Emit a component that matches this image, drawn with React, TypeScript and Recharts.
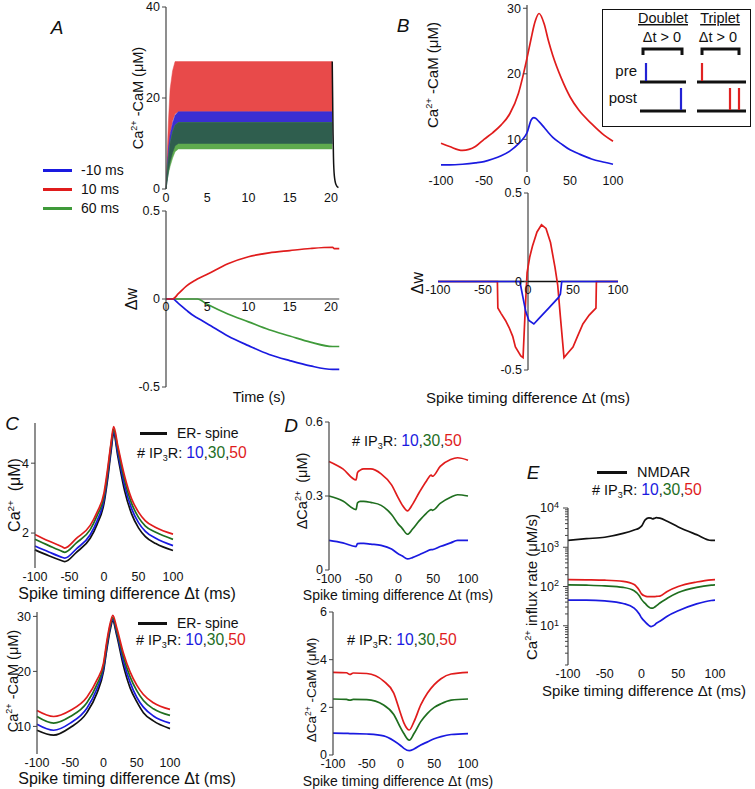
import React from "react";
import { ComposedChart, LineChart, Line, Area, XAxis, YAxis, ReferenceLine } from "recharts";

const FONT = "'Liberation Sans', Arial, Helvetica, sans-serif";
const AX = "#444";
const RED = "#e01c1c";
const BLUE = "#1a1ae0";
const GREEN = "#1f6e1f";
const AGREEN = "#3f9a3a";

// ---- panel A: Ca2+-CaM bands over time (min / max of the oscillation)
const tA = [0, 0.15, 0.3, 0.5, 0.8, 1.1, 1.5, 10, 20.15, 20.2, 20.25, 20.3, 20.4, 20.6, 20.9];
const aRedLo = [0, 3, 7, 12, 15, 16.5, 17, 17, 17, null, null, null, null, null, null];
const aRedHi = [0, 8, 15, 22, 26, 28, 28, 28, 28, null, null, null, null, null, null];
const aBlueLo = [0, 2, 4, 6, 8, 9.5, 10, 10, 10, null, null, null, null, null, null];
const aBlueHi = [0, 5, 9, 12, 14.5, 16.2, 17, 17, 17, null, null, null, null, null, null];
const aGreenLo = [0, 2, 3.5, 5, 6.8, 8.2, 8.8, 8.8, 8.8, null, null, null, null, null, null];
const aGreenHi = [0, 4, 7, 10, 12.5, 14, 14.6, 14.6, 14.6, null, null, null, null, null, null];
const aDecay = [null, null, null, null, null, null, null, null, 28, 20, 12, 7, 3, 1, 0.3];

// ---- panel A: weight change over time
const tW = [0, 0.8, 1.5, 2.5, 3.5, 3.8, 5, 7.5, 10, 12.5, 15, 17.5, 20.2, 20.4, 21];
const wRed = [0, 0, 0.03, 0.075, 0.105, 0.113, 0.14, 0.2, 0.24, 0.262, 0.275, 0.287, 0.294, 0.286, 0.286];
const wBlue = [0, 0, -0.025, -0.065, -0.1, -0.108, -0.14, -0.21, -0.265, -0.315, -0.35, -0.38, -0.4, -0.4, -0.4];
const wGreen = [0, 0, 0, 0, 0, 0, -0.03, -0.085, -0.13, -0.175, -0.21, -0.245, -0.27, -0.27, -0.27];

// ---- panel B: Ca2+-CaM vs spike timing
const dtB = [-100, -90, -75, -60, -50, -40, -30, -20, -10, -5, 0, 5, 8, 10, 14, 20, 25, 30, 40, 50, 60, 75, 90, 100];
const bCamRed = [9.4, 8.9, 8.3, 8.9, 10.0, 11.0, 12.2, 13.9, 17.0, 19.5, 22.4, 25.5, 27.3, 28.2, 29.2, 27.6, 25.0, 22.8, 19.3, 16.5, 14.5, 12.4, 10.6, 9.7];
const bCamBlue = [6.1, 6.1, 6.2, 6.4, 6.6, 7.0, 7.5, 8.2, 9.3, 10.0, 11.0, 13.0, 13.3, 13.2, 12.7, 11.8, 11.0, 10.3, 9.3, 8.4, 7.8, 7.0, 6.5, 6.2];

// ---- panel B: weight change vs spike timing
const dtWRed = [-100, -34, -33.5, -30, -25, -21, -17, -14, -8, -5.5, -3, -1, 2, 5, 10, 15, 20, 25, 30, 33, 36, 40, 45, 50, 55, 61, 68, 75.5, 76, 100];
const bwRed = [0, 0, -0.15, -0.18, -0.22, -0.26, -0.31, -0.37, -0.42, -0.43, -0.15, 0.05, 0.14, 0.2, 0.28, 0.32, 0.3, 0.22, 0.08, -0.02, -0.2, -0.43, -0.4, -0.37, -0.31, -0.24, -0.19, -0.15, 0, 0];
const dtWBlue = [-100, -9, -6, -2.5, 1, 6.5, 12, 23, 34, 36, 37.5, 100];
const bwBlue = [0, 0, -0.08, -0.17, -0.22, -0.24, -0.21, -0.15, -0.09, -0.07, 0, 0];

// ---- panel C: Ca2+ and Ca2+-CaM, ER- spine vs #IP3R
const dtC1 = [-100, -80, -60, -57, -40, -20, -10, 0, 5, 10, 14, 20, 30, 40, 50, 60, 75, 100];
const c1Black = [1.52, 1.35, 1.2, 1.18, 1.45, 1.85, 2.25, 2.85, 3.5, 4.3, 4.85, 4.2, 3.2, 2.55, 2.15, 1.9, 1.7, 1.5];
const c1Blue = [1.63, 1.46, 1.3, 1.28, 1.55, 1.95, 2.35, 2.95, 3.6, 4.4, 4.9, 4.3, 3.35, 2.7, 2.3, 2.05, 1.85, 1.64];
const c1Green = [1.82, 1.64, 1.47, 1.45, 1.72, 2.1, 2.5, 3.05, 3.7, 4.5, 4.97, 4.42, 3.5, 2.85, 2.45, 2.2, 2.02, 1.82];
const c1Red = [1.96, 1.77, 1.6, 1.57, 1.85, 2.22, 2.6, 3.15, 3.8, 4.55, 5.05, 4.5, 3.62, 2.98, 2.6, 2.35, 2.16, 1.97];

const dtC2 = [-100, -75, -50, -25, -10, 0, 5, 10, 14, 20, 30, 40, 50, 60, 75, 100];
const c2Black = [9.3, 8.4, 9.8, 12.5, 16, 20, 24, 27.5, 29.2, 26.5, 21, 17, 14.5, 12.5, 11, 9.6];
const c2Blue = [10.4, 9.3, 10.6, 13.3, 16.8, 20.5, 24.5, 28, 29.5, 27, 21.8, 18, 15.3, 13.5, 11.9, 10.6];
const c2Green = [11.8, 10.6, 11.8, 14.3, 17.6, 21, 25, 28.3, 29.8, 27.4, 22.6, 19, 16.5, 14.7, 13.2, 12];
const c2Red = [12.9, 11.8, 12.9, 15.3, 18.4, 21.5, 25.5, 28.7, 30.2, 27.9, 23.3, 19.9, 17.5, 15.8, 14.3, 13.1];

// ---- panel D: difference to ER- spine
const dtD1 = [-100, -80, -61, -59, -55, -50, -40, -25, -10, 0, 5, 13, 20, 30, 40, 47, 49, 60, 75, 85, 100];
const d1Red = [0.44, 0.41, 0.365, 0.395, 0.405, 0.41, 0.41, 0.39, 0.345, 0.29, 0.265, 0.24, 0.265, 0.315, 0.36, 0.385, 0.38, 0.42, 0.448, 0.455, 0.445];
const d1Green = [0.3, 0.28, 0.245, 0.272, 0.278, 0.278, 0.274, 0.262, 0.225, 0.185, 0.17, 0.145, 0.165, 0.2, 0.23, 0.245, 0.242, 0.27, 0.295, 0.305, 0.3];
const d1Blue = [0.12, 0.11, 0.095, 0.107, 0.108, 0.108, 0.105, 0.1, 0.085, 0.065, 0.058, 0.045, 0.05, 0.062, 0.075, 0.083, 0.083, 0.095, 0.11, 0.12, 0.12];

const dtD2 = [-100, -80, -75, -70, -50, -25, -10, 0, 5, 13, 20, 30, 40, 50, 60, 75, 100];
const d2Red = [3.47, 3.45, 3.38, 3.44, 3.42, 3.1, 2.6, 1.75, 1.35, 1.05, 1.4, 2.1, 2.6, 2.95, 3.2, 3.4, 3.47];
const d2Green = [2.35, 2.33, 2.3, 2.33, 2.32, 2.1, 1.7, 1.15, 0.9, 0.62, 0.9, 1.4, 1.75, 2.0, 2.15, 2.3, 2.35];
const d2Blue = [0.92, 0.91, 0.9, 0.9, 0.88, 0.8, 0.6, 0.4, 0.28, 0.18, 0.25, 0.42, 0.55, 0.68, 0.77, 0.86, 0.9];

// ---- panel E: influx rates (log)
const dtE = [-100, -75, -50, -25, -10, -3, 0, 5, 10, 13, 15, 18, 20, 25, 35, 50, 75, 95, 100];
const eBlack = [1500, 1650, 1800, 2250, 2750, 3100, 3450, 5000, 5600, 5500, 5300, 5500, 5700, 5500, 4600, 3300, 2100, 1500, 1500];
const eRed = [150, 148, 145, 135, 112, 80, 65, 57, 55, 55, 55, 55, 56, 57, 75, 100, 130, 148, 150];
const eGreen = [110, 108, 104, 95, 78, 58, 47, 37, 30, 28, 28, 30, 32, 38, 50, 70, 95, 108, 110];
const eBlue = [45, 45, 43, 37, 28, 20, 16, 12.5, 10.2, 9.5, 9.8, 10.5, 11.5, 13, 17.5, 24, 36, 44, 45];

const dtTicks = [-100, -50, 0, 50, 100];
const timeTicks = [0, 5, 10, 15, 20];
const eDecades = [10, 100, 1000, 10000];

type Box = { x0: number; x1: number; y0: number; y1: number };
const PL = 44, PR = 18, PT = 10, PB = 26;

function frame(b: Box) {
  return {
    style: { position: "absolute", left: b.x0 - PL, top: b.y0 - PT } as React.CSSProperties,
    width: b.x1 - b.x0 + PL + PR,
    height: b.y1 - b.y0 + PT + PB,
    margin: { top: PT, right: PR, bottom: 0, left: 0 },
  };
}

function rows(xs: number[], cols: Record<string, any[]>) {
  return xs.map((x, i) => {
    const r: any = { x };
    Object.keys(cols).forEach((k) => (r[k] = cols[k][i]));
    return r;
  });
}

function unionRows(parts: { key: string; xs: number[]; ys: number[] }[]) {
  const all = Array.from(new Set(parts.flatMap((p) => p.xs))).sort((a, b) => a - b);
  return all.map((x) => {
    const r: any = { x };
    parts.forEach((p) => {
      const i = p.xs.indexOf(x);
      r[p.key] = i >= 0 ? p.ys[i] : null;
    });
    return r;
  });
}

const tickFont = { fill: "#111", fontSize: 12.5, fontFamily: FONT };
const yAx = {
  width: PL,
  tickSize: 4,
  tickMargin: 2,
  axisLine: { stroke: AX, strokeWidth: 1.2 },
  tickLine: { stroke: AX },
  tick: tickFont,
  interval: 0 as const,
};
const xAx = {
  type: "number" as const,
  dataKey: "x",
  height: PB,
  tickSize: 0,
  tickMargin: 4,
  axisLine: false,
  tickLine: false,
  tick: tickFont,
  interval: 0 as const,
};

// tick label placed on a horizontal line inside the plot (axis crossing at zero)
const xTickAt = (yPos: number) => (p: any) => (
  <text x={p.x} y={yPos} dy="0.71em" textAnchor="middle" {...tickFont}>
    {p.payload.value}
  </text>
);
// y tick placed at a vertical line inside the plot
const yTickAt = (xPos: number) => (p: any) => (
  <g>
    <line x1={xPos - 4} x2={xPos} y1={p.y} y2={p.y} stroke={AX} />
    <text x={xPos - 6} y={p.y} dy="0.35em" textAnchor="end" {...tickFont}>
      {p.payload.value}
    </text>
  </g>
);

const sup: React.CSSProperties = { fontSize: "0.62em", verticalAlign: "0.6em", lineHeight: 0 };
const sub: React.CSSProperties = { fontSize: "0.62em", verticalAlign: "-0.3em", lineHeight: 0 };

function VLabel({ cx, cy, size = 14, children }: { cx: number; cy: number; size?: number; children: React.ReactNode }) {
  return (
    <div style={{ position: "absolute", left: cx, top: cy, transform: "translate(-50%,-50%) rotate(-90deg)", whiteSpace: "nowrap", fontSize: size, lineHeight: 1 }}>
      {children}
    </div>
  );
}
function HLabel({ cx, cy, size = 14, children, style }: { cx: number; cy: number; size?: number; children: React.ReactNode; style?: React.CSSProperties }) {
  return (
    <div style={{ position: "absolute", left: cx, top: cy, transform: "translate(-50%,-50%)", whiteSpace: "nowrap", fontSize: size, lineHeight: 1, ...style }}>
      {children}
    </div>
  );
}
function TLabel({ x, cy, size = 14, children, style }: { x: number; cy: number; size?: number; children: React.ReactNode; style?: React.CSSProperties }) {
  return (
    <div style={{ position: "absolute", left: x, top: cy, transform: "translateY(-50%)", whiteSpace: "nowrap", fontSize: size, lineHeight: 1, ...style }}>
      {children}
    </div>
  );
}
function Swatch({ x, y, w, color, thick = 3 }: { x: number; y: number; w: number; color: string; thick?: number }) {
  return <div style={{ position: "absolute", left: x, top: y - thick / 2, width: w, height: thick, background: color }} />;
}
const IP3R = ({ x, cy, size = 14.5 }: { x: number; cy: number; size?: number }) => (
  <TLabel x={x} cy={cy} size={size}>
    # IP<span style={sub}>3</span>R: <span style={{ color: BLUE, fontSize: "1.08em" }}>10</span>,<span style={{ color: GREEN, fontSize: "1.08em" }}>30</span>,<span style={{ color: RED, fontSize: "1.08em" }}>50</span>
  </TLabel>
);

const line = (key: string, color: string, type: any = "monotone") => (
  <Line key={key} dataKey={key} stroke={color} strokeWidth={1.7} dot={false} activeDot={false} type={type} connectNulls isAnimationActive={false} />
);

function PanelATop() {
  const b = { x0: 166, x1: 339.25, y0: 7, y1: 189 };
  const f = frame(b);
  const data = tA.map((t, i) => ({
    x: t,
    red: aRedHi[i] == null ? null : [aRedLo[i], aRedHi[i]],
    blue: aBlueHi[i] == null ? null : [aBlueLo[i], aBlueHi[i]],
    green: aGreenHi[i] == null ? null : [aGreenLo[i], aGreenHi[i]],
    overlap:
      aGreenHi[i] == null
        ? null
        : [Math.max(aBlueLo[i] as number, aGreenLo[i] as number), Math.min(aBlueHi[i] as number, aGreenHi[i] as number)],
    decay: aDecay[i],
  }));
  return (
    <div style={f.style}>
      <ComposedChart width={f.width} height={f.height} margin={f.margin} data={data}>
        <XAxis {...xAx} domain={[0, 21]} ticks={timeTicks} />
        <YAxis {...yAx} domain={[0, 40]} ticks={[0, 20, 40]} />
        <Area dataKey="red" type="linear" fill="#e84a4a" fillOpacity={1} stroke="#e84a4a" strokeWidth={0.5} isAnimationActive={false} dot={false} activeDot={false} />
        <Area dataKey="blue" type="linear" fill="#3a2fd2" fillOpacity={1} stroke="#3a2fd2" strokeWidth={0.5} isAnimationActive={false} dot={false} activeDot={false} />
        <Area dataKey="green" type="linear" fill="#5fab4e" fillOpacity={1} stroke="#5fab4e" strokeWidth={0.5} isAnimationActive={false} dot={false} activeDot={false} />
        <Area dataKey="overlap" type="linear" fill="#2f5e4e" fillOpacity={1} stroke="#2f5e4e" strokeWidth={0.5} isAnimationActive={false} dot={false} activeDot={false} />
        <Line dataKey="decay" stroke="#111" strokeWidth={1.5} dot={false} activeDot={false} type="monotone" isAnimationActive={false} />
      </ComposedChart>
    </div>
  );
}

function PanelABottom() {
  const b = { x0: 166, x1: 339.25, y0: 211, y1: 387 };
  const f = frame(b);
  const data = rows(tW, { red: wRed, blue: wBlue, green: wGreen });
  const zeroY = PT + (b.y1 - b.y0) / 2;
  return (
    <div style={f.style}>
      <LineChart width={f.width} height={f.height} margin={f.margin} data={data}>
        <XAxis {...xAx} domain={[0, 21]} ticks={timeTicks} tick={xTickAt(zeroY + 3)} />
        <YAxis {...yAx} domain={[-0.5, 0.5]} ticks={[-0.5, 0, 0.5]} />
        <ReferenceLine y={0} stroke={AX} strokeWidth={1.2} />
        {line("green", AGREEN)}
        {line("blue", BLUE)}
        {line("red", RED)}
      </LineChart>
    </div>
  );
}

function PanelBTop() {
  const b = { x0: 441, x1: 613, y0: 4.7, y1: 171.8 };
  const f = frame(b);
  const data = rows(dtB, { red: bCamRed, blue: bCamBlue });
  const zeroX = PL + (b.x1 - b.x0) / 2;
  return (
    <div style={f.style}>
      <LineChart width={f.width} height={f.height} margin={f.margin} data={data}>
        <XAxis {...xAx} domain={[-100, 100]} ticks={dtTicks} />
        <YAxis {...yAx} domain={[5, 30.5]} ticks={[10, 20, 30]} axisLine={false} tickLine={false} tick={yTickAt(zeroX)} />
        <ReferenceLine x={0} stroke={AX} strokeWidth={1.2} />
        {line("red", RED)}
        {line("blue", BLUE)}
      </LineChart>
    </div>
  );
}

function PanelBBottom() {
  const b = { x0: 438, x1: 618, y0: 193, y1: 370 };
  const f = frame(b);
  const data = unionRows([
    { key: "red", xs: dtWRed, ys: bwRed },
    { key: "blue", xs: dtWBlue, ys: bwBlue },
  ]);
  const zeroX = PL + (b.x1 - b.x0) / 2;
  const zeroY = PT + (b.y1 - b.y0) / 2;
  return (
    <div style={f.style}>
      <LineChart width={f.width} height={f.height} margin={f.margin} data={data}>
        <XAxis {...xAx} domain={[-100, 100]} ticks={dtTicks} tick={xTickAt(zeroY + 4)} />
        <YAxis {...yAx} domain={[-0.5, 0.5]} ticks={[-0.5, 0, 0.5]} axisLine={false} tickLine={false} tick={yTickAt(zeroX)} />
        <ReferenceLine x={0} stroke={AX} strokeWidth={1.2} />
        <ReferenceLine y={0} stroke="#111" strokeWidth={1.5} />
        {line("red", RED, "linear")}
        {line("blue", BLUE, "linear")}
      </LineChart>
    </div>
  );
}

function LogTick(p: any) {
  const v = p.payload.value;
  const major = eDecades.includes(v);
  return (
    <g>
      <line x1={PL - (major ? 5 : 3)} x2={PL} y1={p.y} y2={p.y} stroke={AX} />
      {major && (
        <text x={PL - 9} y={p.y} dy="0.35em" textAnchor="end" {...tickFont}>
          10
          <tspan dy="-0.5em" fontSize={9}>
            {Math.round(Math.log10(v))}
          </tspan>
        </text>
      )}
    </g>
  );
}

const eTicks = [1, 10, 100, 1000].flatMap((d) => [1, 2, 3, 4, 5, 6, 7, 8, 9].map((k) => k * d)).concat([10000]);

function DtPanel({ b, data, domain, ticks, keys, log }: { b: Box; data: any[]; domain: [number, number]; ticks: number[]; keys: [string, string][]; log?: boolean }) {
  const f = frame(b);
  return (
    <div style={f.style}>
      <LineChart width={f.width} height={f.height} margin={f.margin} data={data}>
        <XAxis {...xAx} domain={[-100, 100]} ticks={dtTicks} />
        {log ? (
          <YAxis {...yAx} scale="log" domain={domain} ticks={ticks} allowDataOverflow tickLine={false} tick={LogTick} />
        ) : (
          <YAxis {...yAx} domain={domain} ticks={ticks} allowDataOverflow />
        )}
        {keys.map(([k, c]) => line(k, c))}
      </LineChart>
    </div>
  );
}

function Inset() {
  const blue = "#2222d4";
  const red = "#e02222";
  return (
    <div style={{ position: "absolute", left: 602, top: 9, width: 149, height: 118, border: "1.5px solid #111", boxSizing: "border-box", background: "#fff" }}>
      <svg width={149} height={118} style={{ position: "absolute", left: -1.5, top: -1.5 }}>
        <g fontFamily={FONT} fill="#111">
          <text x={61} y={14} fontSize={14.5} textAnchor="middle" textDecoration="underline">Doublet</text>
          <text x={118} y={14} fontSize={14.5} textAnchor="middle" textDecoration="underline">Triplet</text>
          <text x={60} y={33} fontSize={14.5} textAnchor="middle">Δt &gt; 0</text>
          <text x={116} y={33} fontSize={14.5} textAnchor="middle">Δt &gt; 0</text>
          <text x={35} y={67} fontSize={15} textAnchor="end">pre</text>
          <text x={35} y={94} fontSize={15} textAnchor="end">post</text>
        </g>
        <g stroke="#111" strokeWidth={3} fill="none">
          <polyline points="41,46 41,40 80,40 80,46" />
          <polyline points="100,46 100,40 137,40 137,46" />
          <line x1={38} x2={84} y1={73} y2={73} />
          <line x1={95} x2={144} y1={73} y2={73} />
          <line x1={38} x2={84} y1={102} y2={102} />
          <line x1={95} x2={144} y1={102} y2={102} />
        </g>
        <g strokeWidth={2.2}>
          <line x1={44} x2={44} y1={54} y2={72} stroke={blue} />
          <line x1={100} x2={100} y1={54} y2={72} stroke={red} />
          <line x1={79} x2={79} y1={79} y2={101} stroke={blue} />
          <line x1={128} x2={128} y1={79} y2={101} stroke={red} />
          <line x1={137} x2={137} y1={79} y2={101} stroke={red} />
        </g>
      </svg>
    </div>
  );
}

const spikeTitle = "Spike timing difference Δt (ms)";

export default function App() {
  const c1 = rows(dtC1, { black: c1Black, blue: c1Blue, green: c1Green, red: c1Red });
  const c2 = rows(dtC2, { black: c2Black, blue: c2Blue, green: c2Green, red: c2Red });
  const d1 = rows(dtD1, { blue: d1Blue, green: d1Green, red: d1Red });
  const d2 = rows(dtD2, { blue: d2Blue, green: d2Green, red: d2Red });
  const e = rows(dtE, { black: eBlack, blue: eBlue, green: eGreen, red: eRed });
  const four: [string, string][] = [["black", "#111"], ["blue", BLUE], ["green", GREEN], ["red", RED]];
  const three: [string, string][] = [["blue", BLUE], ["green", GREEN], ["red", RED]];

  return (
    <div style={{ position: "absolute", left: 0, top: 0, width: 755, height: 789, background: "#fff", fontFamily: FONT, color: "#111", overflow: "hidden" }}>
      {/* A */}
      <HLabel cx={57} cy={27} size={19} style={{ fontStyle: "italic" }}>A</HLabel>
      <PanelATop />
      <PanelABottom />
      <VLabel cx={138} cy={98} size={14.5}>Ca<span style={sup}>2+</span> -CaM (μM)</VLabel>
      <VLabel cx={132} cy={299} size={16}>Δw</VLabel>
      <HLabel cx={259} cy={397} size={14.5}>Time (s)</HLabel>
      <Swatch x={43} y={170} w={29} color={BLUE} />
      <Swatch x={43} y={189} w={29} color={RED} />
      <Swatch x={43} y={208} w={29} color={AGREEN} />
      <TLabel x={81} cy={170} size={14}>-10 ms</TLabel>
      <TLabel x={81} cy={189} size={14}>10 ms</TLabel>
      <TLabel x={81} cy={208} size={14}>60 ms</TLabel>

      {/* B */}
      <HLabel cx={403} cy={25} size={19} style={{ fontStyle: "italic" }}>B</HLabel>
      <PanelBTop />
      <PanelBBottom />
      <VLabel cx={432} cy={75} size={15}>Ca<span style={sup}>2+</span> -CaM (μM)</VLabel>
      <VLabel cx={418} cy={283} size={16}>Δw</VLabel>
      <HLabel cx={528} cy={397} size={15}>{spikeTitle}</HLabel>
      <Inset />

      {/* C */}
      <HLabel cx={12} cy={423} size={19} style={{ fontStyle: "italic" }}>C</HLabel>
      <DtPanel b={{ x0: 35, x1: 173, y0: 423, y1: 568 }} data={c1} domain={[1, 5.15]} ticks={[2, 4]} keys={four} />
      <VLabel cx={15} cy={495} size={16}>Ca<span style={sup}>2+</span>&nbsp; (μM)</VLabel>
      <HLabel cx={127} cy={594} size={16}>{spikeTitle}</HLabel>
      <Swatch x={140} y={433} w={27} color="#111" />
      <TLabel x={177} cy={433} size={14}>ER- spine</TLabel>
      <IP3R x={137} cy={453} />

      <DtPanel b={{ x0: 37, x1: 170, y0: 611.6, y1: 753.5 }} data={c2} domain={[5, 30.8]} ticks={[10, 20, 30]} keys={four} />
      <VLabel cx={13} cy={681} size={14.5}>Ca<span style={sup}>2+</span> -CaM (μM)</VLabel>
      <HLabel cx={127} cy={779} size={16}>{spikeTitle}</HLabel>
      <Swatch x={138} y={623} w={29} color="#111" />
      <TLabel x={177} cy={623} size={14}>ER- spine</TLabel>
      <IP3R x={136} cy={640} />

      {/* D */}
      <HLabel cx={291} cy={425} size={19} style={{ fontStyle: "italic" }}>D</HLabel>
      <DtPanel b={{ x0: 329, x1: 468, y0: 422, y1: 570 }} data={d1} domain={[0, 0.6]} ticks={[0, 0.3, 0.6]} keys={three} />
      <VLabel cx={302} cy={491} size={14.5}>ΔCa<span style={sup}>2+</span>&nbsp; (μM)</VLabel>
      <HLabel cx={398} cy={595} size={14}>{spikeTitle}</HLabel>
      <IP3R x={352} cy={441} />

      <DtPanel b={{ x0: 333, x1: 468, y0: 612, y1: 755 }} data={d2} domain={[0, 6]} ticks={[0, 2, 4, 6]} keys={three} />
      <VLabel cx={312} cy={690} size={13.5}>ΔCa<span style={sup}>2+</span> -CaM (μM)</VLabel>
      <HLabel cx={398} cy={781} size={14}>{spikeTitle}</HLabel>
      <IP3R x={347} cy={640} />

      {/* E */}
      <HLabel cx={533} cy={472} size={19} style={{ fontStyle: "italic" }}>E</HLabel>
      <DtPanel b={{ x0: 568, x1: 715, y0: 508, y1: 665 }} data={e} domain={[1, 10000]} ticks={eTicks} keys={four} log />
      <VLabel cx={531} cy={587} size={15}>Ca<span style={sup}>2+</span> influx rate (μM/s)</VLabel>
      <HLabel cx={644} cy={690} size={15}>{spikeTitle}</HLabel>
      <Swatch x={597} y={472} w={30} color="#111" />
      <TLabel x={637} cy={472} size={14.5}>NMDAR</TLabel>
      <IP3R x={592} cy={490} />
    </div>
  );
}
